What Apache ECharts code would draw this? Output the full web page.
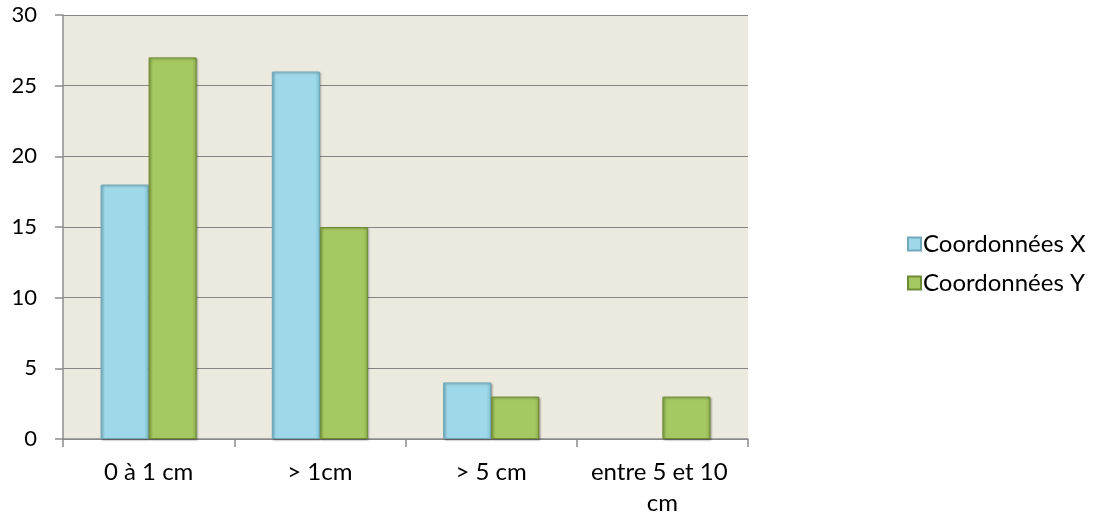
<!DOCTYPE html>
<html>
<head>
<meta charset="utf-8">
<script src="https://cdn.jsdelivr.net/npm/echarts@6/dist/echarts.min.js"></script>
<style>
  html, body { margin: 0; padding: 0; background: #fff; }
  #chart { width: 1094px; height: 520px; }
</style>
</head>
<body>
<div id="chart"></div>
<script>
const categories = ['0 à 1 cm', '> 1cm', '> 5 cm', 'entre 5 et 10 cm']
const seriesNames = ['Coordonnées X', 'Coordonnées Y']
const valuesX = [18, 26, 4, null]
const valuesY = [27, 15, 3, 3]

const chart = echarts.init(document.getElementById('chart'))

// fake bevel: darker edges, lighter face
function bevel(edge, mid) {
  return new echarts.graphic.LinearGradient(0, 0, 1, 0, [
    { offset: 0, color: edge },
    { offset: 0.1, color: mid },
    { offset: 0.9, color: mid },
    { offset: 1, color: edge }
  ])
}

const font = 'Lato, "Open Sans", sans-serif'

chart.setOption({
  animation: false,
  textStyle: { fontFamily: font },
  grid: {
    left: 63, right: 346, top: 15, bottom: 81,
    show: true, backgroundColor: '#ECE9DF', borderWidth: 0
  },
  legend: {
    orient: 'vertical', left: 902, top: 227,
    itemWidth: 13, itemHeight: 13, itemGap: 15, icon: 'rect',
    textStyle: { fontSize: 24, color: '#000', fontFamily: font, padding: [0, 0, 0, -3] },
    data: seriesNames
  },
  xAxis: {
    type: 'category', data: categories,
    axisLine: { lineStyle: { color: '#8C8C8C', width: 1.5 } },
    axisTick: { show: true, length: 8, lineStyle: { color: '#8C8C8C', width: 1.5 } },
    axisLabel: {
      color: '#000', fontSize: 24, margin: 18, interval: 0,
      width: 150, overflow: 'break', lineHeight: 31
    }
  },
  yAxis: {
    type: 'value', min: 0, max: 30, interval: 5,
    axisLine: { show: true, lineStyle: { color: '#8C8C8C', width: 1.5 } },
    axisTick: { show: true, length: 8, lineStyle: { color: '#8C8C8C', width: 1.5 } },
    splitLine: { lineStyle: { color: '#868686', width: 1.2 } },
    axisLabel: { color: '#000', fontSize: 22, margin: 26 }
  },
  series: [
    {
      name: seriesNames[0], type: 'bar', data: valuesX,
      barWidth: 48, barGap: '0%',
      itemStyle: {
        color: bevel('#80C2D4', '#9FD8E8'),
        borderColor: '#6FA9BA', borderWidth: 1,
        shadowColor: 'rgba(0,0,0,0.3)', shadowBlur: 2, shadowOffsetX: 1, shadowOffsetY: 1
      }
    },
    {
      name: seriesNames[1], type: 'bar', data: valuesY,
      barWidth: 48,
      itemStyle: {
        color: bevel('#8DB04A', '#A6C862'),
        borderColor: '#6E8C34', borderWidth: 1,
        shadowColor: 'rgba(0,0,0,0.3)', shadowBlur: 2, shadowOffsetX: 1, shadowOffsetY: 1
      }
    }
  ]
})
</script>
</body>
</html>
